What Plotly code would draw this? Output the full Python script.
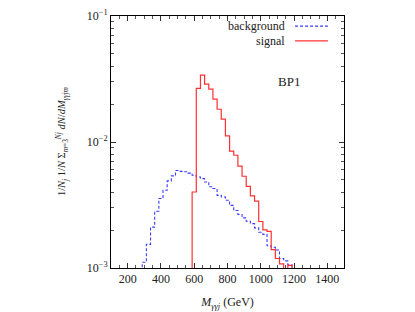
import plotly.graph_objects as go

# bin centres (GeV), 25 GeV bins
mass = list(range(100, 1525, 25))

background = [0, 0, 0, 0, 0, 0, 0, 0,
              0.00111, 0.00154, 0.00211, 0.00282, 0.00356, 0.00414, 0.00491, 0.00538,
              0.00594, 0.00585, 0.00580, 0.00566, 0.00544, 0.00528, 0.00512, 0.00482,
              0.00441, 0.00427, 0.00377, 0.00366, 0.00345, 0.00314, 0.00286, 0.00266,
              0.00250, 0.00235, 0.00225, 0.00208, 0.00192, 0.00185, 0.00150, 0.00146,
              0.00139, 0.00119, 0.00114, 0.00106,
              0, 0, 0, 0, 0, 0, 0, 0, 0, 0, 0, 0, 0]

signal = [0] * 20 + [0.00401, 0.0266, 0.0340, 0.0288, 0.0263, 0.0219, 0.0182, 0.0152,
                     0.0112, 0.00845, 0.00785, 0.00643, 0.00535, 0.00445, 0.00374, 0.00340,
                     0.00234, 0.00201, 0.00195, 0.00140, 0.00119, 0.00108, 0, 0.00105] + [0] * 13

series_names = ["background", "signal"]
x_ticks = [200, 400, 600, 800, 1000, 1200, 1400]
y_ticks = [1e-3, 1e-2, 1e-1]
y_ticktext = ["10<sup>−3</sup>", "10<sup>−2</sup>", "10<sup>−1</sup>"]

FLOOR = 1e-6  # empty bins drawn below the axis floor
def show(v):
    return [val if val > 0 else FLOOR for val in v]

BLUE = "#3a3aff"
RED = "#ff3030"
FONT = "Liberation Serif"

fig = go.Figure()
fig.add_trace(go.Scatter(x=mass, y=show(background), mode="lines", name=series_names[0],
                         line=dict(shape="hvh", color=BLUE, width=1.1, dash="3px,2px"),
                         showlegend=False))
fig.add_trace(go.Scatter(x=mass, y=show(signal), mode="lines", name=series_names[1],
                         line=dict(shape="hvh", color=RED, width=1.2),
                         showlegend=False))

minor_y = [k * 10 ** e for e in (-3, -2) for k in range(2, 10)]

# page body has an 8px margin, so the figure is 8px smaller and margins shifted
fig.update_layout(
    width=407, height=304,
    margin=dict(l=103, r=71, t=8, b=44),
    paper_bgcolor="white", plot_bgcolor="white",
    font=dict(family=FONT, size=12, color="#222"),
    xaxis=dict(range=[100, 1500], tickmode="array", tickvals=x_ticks, automargin=False,
               ticks="inside", ticklen=5, tickcolor="#333", showgrid=False, zeroline=False,
               showline=True, linecolor="black", linewidth=1, mirror="ticks",
               minor=dict(ticks="inside", ticklen=3, dtick=50, tick0=100, tickcolor="#555", showgrid=False),
               tickfont=dict(family=FONT, size=12),
               title=dict(text="<i>M</i><sub><i>γγj</i></sub> (GeV)", font=dict(family=FONT, size=12), standoff=12)),
    yaxis=dict(type="log", range=[-3, -1], tickmode="array", tickvals=y_ticks, ticktext=y_ticktext,
               automargin=False,
               ticks="inside", ticklen=5, tickcolor="#333", showgrid=False, zeroline=False,
               showline=True, linecolor="black", linewidth=1, mirror="ticks",
               minor=dict(ticks="inside", ticklen=3, tickmode="array", tickvals=minor_y, tickcolor="#555", showgrid=False),
               tickfont=dict(family=FONT, size=12)),
)

# y-axis title placed like the reference
fig.add_annotation(x=-0.21, y=0.5, xref="paper", yref="paper", textangle=-90, showarrow=False,
                   xanchor="center", yanchor="middle",
                   text="1/<i>N<sub>j</sub></i> 1/<i>N</i> Σ<sub><i>m</i>=3</sub><sup><i>Nj</i></sup> <i>dN</i>/<i>dM</i><sub><i>γγjm</i></sub>",
                   font=dict(family=FONT, size=10.5, color="#222"))

# gnuplot-style key (text to the left of the sample line)
legend_rows = [(series_names[0], BLUE, "dash", 0.960), (series_names[1], RED, "solid", 0.901)]
for name, col, dash, yp in legend_rows:
    fig.add_annotation(x=0.756, y=yp, xref="paper", yref="paper", text=name, showarrow=False,
                       xanchor="right", yanchor="middle", font=dict(family=FONT, size=12, color="#222"))
    fig.add_shape(type="line", xref="paper", yref="paper", x0=0.79, x1=0.931, y0=yp, y1=yp,
                  line=dict(color=col, width=1.2, dash="3px,2px" if dash == "dash" else "solid"))

fig.add_annotation(x=0.764, y=0.742, xref="paper", yref="paper", text="BP1", showarrow=False,
                   xanchor="center", yanchor="middle", font=dict(family=FONT, size=13, color="#222"))

fig.write_html("out.html")
